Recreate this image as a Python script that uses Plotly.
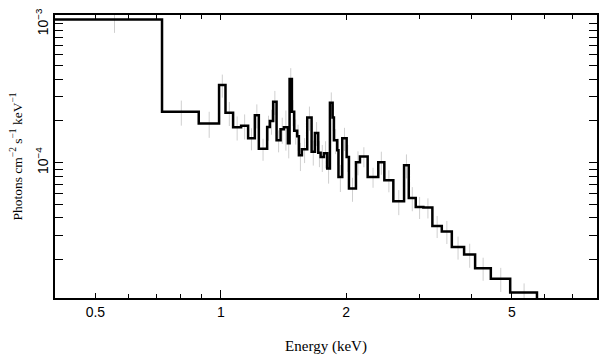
import math
import plotly.graph_objects as go

# Bin edges in keV (56 edges -> 55 bins)
bin_edges = [0.389, 0.7227, 0.8853, 0.9906, 1.0264, 1.0705, 1.1189, 1.1631, 1.2071,
             1.2341, 1.2922, 1.3117, 1.3358, 1.3612, 1.3917, 1.4173, 1.4492, 1.4627,
             1.4816, 1.5005, 1.5256, 1.5400, 1.5658, 1.6126, 1.6520, 1.6827, 1.7136,
             1.7366, 1.7685, 1.8010, 1.8281, 1.8557, 1.8690, 1.9037, 1.9165, 1.9571,
             2.0053, 2.0309, 2.1110, 2.1582, 2.2522, 2.3882, 2.4695, 2.5954, 2.7541,
             2.8266, 2.9376, 3.0641, 3.2206, 3.3925, 3.5859, 3.8377, 4.0786, 4.4485,
             4.9512, 5.7411]

# Flux per bin (photons cm^-2 s^-1 keV^-1)
flux = [1.078e-3, 2.327e-4, 1.92e-4, 3.63e-4, 2.29e-4, 1.80e-4, 1.85e-4, 1.50e-4,
        2.20e-4, 1.26e-4, 1.81e-4, 2.00e-4, 2.75e-4, 1.45e-4, 1.74e-4, 1.80e-4,
        1.38e-4, 4.01e-4, 2.33e-4, 1.70e-4, 1.55e-4, 1.13e-4, 1.25e-4, 2.12e-4,
        1.20e-4, 1.64e-4, 1.18e-4, 1.10e-4, 1.17e-4, 9.08e-5, 2.70e-4, 2.12e-4,
        1.45e-4, 1.23e-4, 7.90e-5, 1.50e-4, 1.10e-4, 6.51e-5, 1.01e-4, 1.11e-4,
        7.90e-5, 1.01e-4, 7.47e-5, 5.27e-5, 9.59e-5, 5.57e-5, 4.80e-5, 4.75e-5,
        3.50e-5, 3.20e-5, 2.47e-5, 2.18e-5, 1.74e-5, 1.46e-5, 1.16e-5]

# 1-sigma uncertainty per bin
flux_err = [2.16e-4, 4.77e-5, 4.09e-5, 6.86e-5, 4.51e-5, 3.55e-5, 3.79e-5, 2.72e-5,
            4.33e-5, 2.28e-5, 3.71e-5, 4.10e-5, 5.42e-5, 2.62e-5, 3.71e-5, 5.78e-5,
            3.05e-5, 7.90e-5, 4.96e-5, 3.49e-5, 3.30e-5, 2.59e-5, 2.56e-5, 4.18e-5,
            2.46e-5, 3.23e-5, 2.51e-5, 2.43e-5, 2.59e-5, 2.01e-5, 5.10e-5, 4.35e-5,
            2.97e-5, 2.72e-5, 1.75e-5, 2.84e-5, 2.43e-5, 1.28e-5, 1.99e-5, 1.83e-5,
            1.30e-5, 1.91e-5, 1.35e-5, 1.08e-5, 1.89e-5, 1.10e-5, 8.69e-6, 7.84e-6,
            6.34e-6, 6.05e-6, 4.67e-6, 4.29e-6, 3.29e-6, 2.88e-6, 1.91e-6]

floor_value = 1e-6  # histogram closes down to the axis after the last bin

x_tick_vals = [0.5, 1, 2, 5]
x_tick_text = ["0.5", "1", "2", "5"]
x_minor_vals = [0.4, 0.6, 0.7, 0.8, 0.9, 3, 4, 6, 7, 8]
y_tick_vals = [1e-4, 1e-3]
y_tick_text = ["10<sup>\u22124</sup>", "10<sup>\u22123</sup>"]
y_minor_vals = [2e-5, 3e-5, 4e-5, 5e-5, 6e-5, 7e-5, 8e-5, 9e-5,
                2e-4, 3e-4, 4e-4, 5e-4, 6e-4, 7e-4, 8e-4, 9e-4]

centers = [(a + b) / 2 for a, b in zip(bin_edges[:-1], bin_edges[1:])]

fig = go.Figure()
fig.add_trace(go.Scatter(
    x=centers, y=flux, mode="markers",
    marker=dict(size=1, color="rgba(0,0,0,0)"),
    error_y=dict(type="data", array=flux_err, color="#cfcfcf", thickness=1, width=0),
    hoverinfo="skip", showlegend=False))
fig.add_trace(go.Scatter(
    x=bin_edges, y=flux + [floor_value], mode="lines",
    line=dict(shape="hv", color="black", width=2.5),
    showlegend=False))

xr = [math.log10(0.4), math.log10(8.0)]
tick_font = dict(family="Liberation Sans, Arial, sans-serif", size=14, color="black")
title_font = dict(family="Liberation Serif, Times New Roman, serif", size=15, color="black")
ytitle_font = dict(family="Liberation Serif, Times New Roman, serif", size=13.5, color="black")

# The page body has an 8px margin, so the figure is sized to fill the rest of the window.
fig.update_layout(
    width=600, height=352,
    margin=dict(l=47, r=11, t=7, b=62),
    paper_bgcolor="white", plot_bgcolor="white",
    xaxis=dict(
        type="log", range=xr, showgrid=False, zeroline=False, automargin=False,
        showline=True, linecolor="black", linewidth=1.5, mirror="allticks",
        ticks="inside", ticklen=5, tickwidth=1.3, tickcolor="black",
        tickmode="array", tickvals=x_tick_vals, ticktext=x_tick_text,
        tickfont=tick_font,
        minor=dict(tickmode="array", tickvals=x_minor_vals, ticks="inside",
                   ticklen=4, tickwidth=1.3, tickcolor="black", showgrid=False),
        title=dict(text="Energy (keV)", font=title_font, standoff=22),
    ),
    xaxis2=dict(
        type="log", range=xr, overlaying="x", anchor="y", side="bottom",
        showgrid=False, zeroline=False, showline=False, automargin=False,
        ticks="inside", ticklen=8, tickwidth=1.3, tickcolor="black",
        tickmode="array", tickvals=[1], showticklabels=False,
    ),
    yaxis=dict(
        type="log", range=[math.log10(1.06e-5), math.log10(1.16e-3)],
        showgrid=False, zeroline=False, automargin=False,
        showline=True, linecolor="black", linewidth=1.5, mirror="allticks",
        ticks="inside", ticklen=8, tickwidth=1.3, tickcolor="black",
        tickmode="array", tickvals=y_tick_vals, ticktext=y_tick_text,
        tickangle=-90, tickfont=tick_font, ticklabeloverflow="allow",
        minor=dict(tickmode="array", tickvals=y_minor_vals, ticks="inside",
                   ticklen=4, tickwidth=1.3, tickcolor="black", showgrid=False),
        title=dict(text="Photons cm<sup>\u22122</sup> s<sup>\u22121</sup> keV<sup>\u22121</sup>",
                   font=ytitle_font, standoff=7),
    ),
)
fig.add_trace(go.Scatter(x=[], y=[], xaxis="x2", showlegend=False))

fig.write_html("out.html")
